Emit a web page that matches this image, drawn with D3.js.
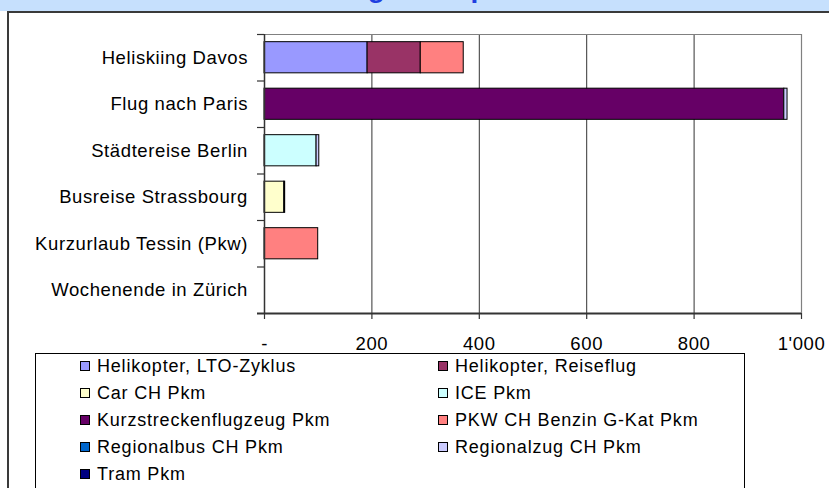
<!DOCTYPE html>
<html>
<head>
<meta charset="utf-8">
<script src="https://cdn.jsdelivr.net/npm/d3@7"></script>
<style>
  body { margin: 0; background: #fff; }
  svg { display: block; font-family: "Liberation Sans", Arial, sans-serif; }
</style>
</head>
<body>
<div id="vis"></div>
<script>
// data (kg CO2-eq per trip, rough)
const categories = ['Heliskiing Davos', 'Flug nach Paris', 'Städtereise Berlin',
  'Busreise Strassbourg', 'Kurzurlaub Tessin (Pkw)', 'Wochenende in Zürich'];

const seriesNames = ['Helikopter, LTO-Zyklus', 'Helikopter, Reiseflug', 'Car CH Pkm', 'ICE Pkm',
  'Kurzstreckenflugzeug Pkm', 'PKW CH Benzin G-Kat Pkm', 'Regionalbus CH Pkm',
  'Regionalzug CH Pkm', 'Tram Pkm'];

const seriesColors = ['#9999ff', '#993366', '#ffffcc', '#ccffff', '#660066', '#ff8080',
  '#0066cc', '#ccccff', '#000080'];

// one value per category, top to bottom
const heliLto      = [192, 0, 0, 0, 0, 0];
const heliReise    = [99, 0, 0, 0, 0, 0];
const carCh        = [0, 0, 0, 37, 0, 0];
const icePkm       = [0, 0, 97, 0, 0, 0];
const kurzstrecke  = [0, 968, 0, 0, 0, 0];
const pkwBenzin    = [80, 0, 0, 0, 100, 0];
const regionalbus  = [0, 0, 0, 0, 0, 0];
const regionalzug  = [0, 6, 5, 0, 0, 0];
const tram         = [0, 0, 0, 1.5, 0, 0];

const xTicks = [0, 200, 400, 600, 800, 1000];
const xTickLabels = ['-', '200', '400', '600', '800', "1'000"];

const seriesValues = [heliLto, heliReise, carCh, icePkm, kurzstrecke, pkwBenzin,
  regionalbus, regionalzug, tram];

const rows = categories.map((name, i) => {
  const row = { name };
  seriesNames.forEach((s, j) => { row[s] = seriesValues[j][i]; });
  return row;
});

const W = 829, H = 488;
const plot = { left: 264, top: 34, right: 801, bottom: 313 };

const $svg = d3.select('#vis').append('svg')
  .attr('width', W)
  .attr('height', H);

// banner + chart frame
$svg.append('rect')
  .attr('x', 0).attr('y', 0).attr('width', W).attr('height', 11)
  .attr('fill', '#c6e0fd');

// title sits mostly above the visible area, only descenders show
$svg.append('text')
  .attr('x', 262)
  .attr('y', -3)
  .attr('fill', '#1f3fe0')
  .attr('font-size', 28)
  .attr('font-weight', 700)
  .text('Erholung und Sport');

$svg.append('path')
  .attr('d', `M8,${H} V12 H${W}`)
  .attr('fill', 'none')
  .attr('stroke', '#3a3a3a')
  .attr('stroke-width', 2);

// scales
const x = d3.scaleLinear()
  .domain([0, 1000])
  .range([plot.left, plot.right]);

const y = d3.scaleBand()
  .domain(categories)
  .range([plot.top, plot.bottom])
  .paddingInner(0.33)
  .paddingOuter(0.165);

const yOuter = d3.scaleBand()
  .domain(categories)
  .range([plot.top, plot.bottom]);

const colour = d3.scaleOrdinal()
  .domain(seriesNames)
  .range(seriesColors);

// gridlines
$svg.append('g')
  .attr('class', 'grid')
  .selectAll('line')
  .data(xTicks.slice(1, -1))
  .join('line')
  .attr('x1', d => x(d) + 0.5)
  .attr('x2', d => x(d) + 0.5)
  .attr('y1', plot.top)
  .attr('y2', plot.bottom)
  .attr('stroke', '#333')
  .attr('stroke-width', 1);

// plot area border (top + right)
$svg.append('path')
  .attr('d', `M${plot.left},${plot.top + 0.5} H${plot.right + 0.5} V${plot.bottom}`)
  .attr('fill', 'none')
  .attr('stroke', '#808080')
  .attr('stroke-width', 1.2);

// stacked bars
const stacked = d3.stack().keys(seriesNames)(rows);

$svg.append('g')
  .attr('class', 'bars')
  .selectAll('g')
  .data(stacked)
  .join('g')
  .attr('fill', d => colour(d.key))
  .selectAll('rect')
  .data(d => d.filter(s => s[1] - s[0] > 0))
  .join('rect')
  .attr('x', d => x(d[0]))
  .attr('y', d => y(d.data.name))
  .attr('width', d => x(d[1]) - x(d[0]))
  .attr('height', y.bandwidth())
  .attr('stroke', '#000')
  .attr('stroke-width', 1);

// x axis
const xAxis = d3.axisBottom(x)
  .tickValues(xTicks)
  .tickFormat((d, i) => xTickLabels[i])
  .tickSize(6)
  .tickSizeOuter(0)
  .tickPadding(18);

$svg.append('g')
  .attr('class', 'axis x')
  .attr('transform', `translate(0, ${plot.bottom})`)
  .call(xAxis)
  .call(g => g.select('.domain')
    .attr('d', `M${plot.left - 7},0.5 H${plot.right}`)
    .attr('stroke', '#333')
    .attr('stroke-width', 2))
  .call(g => g.selectAll('.tick line').attr('stroke', '#333').attr('stroke-width', 1.2))
  .call(g => g.selectAll('.tick text')
    .attr('font-size', 18.5)
    .attr('letter-spacing', 0.6)
    .attr('font-family', '"Liberation Sans", Arial, sans-serif')
    .attr('fill', '#000'));

// y axis: line plus ticks between categories
const yAxisG = $svg.append('g').attr('class', 'axis y');

yAxisG.append('line')
  .attr('x1', plot.left + 0.5).attr('x2', plot.left + 0.5)
  .attr('y1', plot.top).attr('y2', plot.bottom)
  .attr('stroke', '#333')
  .attr('stroke-width', 1.5);

yAxisG.selectAll('.ytick')
  .data(categories)
  .join('line')
  .attr('class', 'ytick')
  .attr('x1', plot.left - 7).attr('x2', plot.left)
  .attr('y1', d => yOuter(d) + 0.5)
  .attr('y2', d => yOuter(d) + 0.5)
  .attr('stroke', '#333')
  .attr('stroke-width', 1.2);

yAxisG.selectAll('.ylabel')
  .data(categories)
  .join('text')
  .attr('class', 'ylabel')
  .attr('x', 248)
  .attr('y', d => yOuter(d) + yOuter.bandwidth() / 2)
  .attr('dy', '0.35em')
  .attr('text-anchor', 'end')
  .attr('font-size', 18.5)
  .attr('letter-spacing', 0.6)
  .attr('fill', '#000')
  .text(d => d);

// legend
const legend = $svg.append('g').attr('class', 'legend');

legend.append('rect')
  .attr('x', 35.5).attr('y', 353.5)
  .attr('width', 709).attr('height', 150)
  .attr('fill', '#fff')
  .attr('stroke', '#000')
  .attr('stroke-width', 1);

const items = legend.selectAll('.item')
  .data(seriesNames)
  .join('g')
  .attr('class', 'item')
  .attr('transform', (d, i) => `translate(${i % 2 ? 438 : 80}, ${366 + Math.floor(i / 2) * 27})`);

items.append('rect')
  .attr('x', 0.5).attr('y', -4.5)
  .attr('width', 9).attr('height', 9)
  .attr('fill', d => colour(d))
  .attr('stroke', '#000')
  .attr('stroke-width', 1);

items.append('text')
  .attr('x', 17)
  .attr('y', 0)
  .attr('dy', '0.35em')
  .attr('font-size', 18)
  .attr('letter-spacing', 0.8)
  .attr('fill', '#000')
  .text(d => d);
</script>
</body>
</html>
